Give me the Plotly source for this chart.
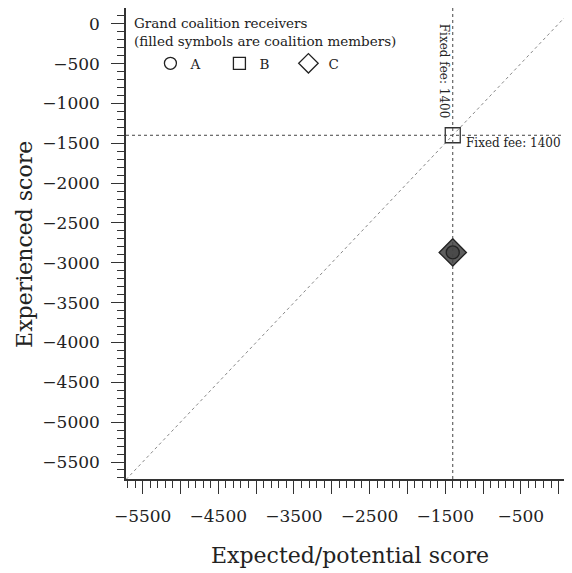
import plotly.graph_objects as go

# data
receivers = ["A", "B", "C"]
expected = [-1400, -1400, -1400]
experienced = [-2870, -1400, -2870]
coalition_member = [True, False, True]
fixed_fee = 1400

y_ticks = list(range(0, -6000, -500))
x_ticks = list(range(-5500, 500, 500))
x_labels = ["−" + str(abs(v)) if (v % 1000) != 0 else "" for v in x_ticks]
y_labels = [("−" + str(abs(v))) if v < 0 else "0" for v in y_ticks]
x_title = "Expected/potential score"
y_title = "Experienced score"

FONT = "DejaVu Serif"
symbols = {"A": "circle", "B": "square", "C": "diamond"}
sizes = {"A": 13, "B": 15, "C": 21}
fills = {"A": "#4a4a4a", "B": "#5a5a5a", "C": "#5e5e5e"}

fig = go.Figure()

xr = [-5720, 150]
yr = [-5713, 197]

# diagonal
fig.add_trace(go.Scatter(x=[-5720, 300], y=[-5720, 300], mode="lines",
                         line=dict(color="#888", width=1, dash="dot"),
                         showlegend=False, hoverinfo="skip"))

for name in ["C", "A", "B"]:
    i = receivers.index(name)
    filled = coalition_member[i]
    fig.add_trace(go.Scatter(
        x=[expected[i]], y=[experienced[i]], mode="markers",
        marker=dict(symbol=symbols[name] + ("" if filled else "-open"),
                    size=sizes[name],
                    color=fills[name] if filled else "#333",
                    line=dict(color="#222", width=1.3)),
        showlegend=False))

# legend entries (open symbols)
for name in receivers:
    fig.add_trace(go.Scatter(
        x=[None], y=[None], mode="markers", name=name,
        marker=dict(symbol=symbols[name] + "-open", size=12 if name != "C" else 15,
                    color="#222", line=dict(width=1.3))))

fig.add_vline(x=-fixed_fee, line=dict(color="#444", width=1, dash="3px,3px"))
fig.add_hline(y=-fixed_fee, line=dict(color="#444", width=1, dash="3px,3px"))

fig.add_annotation(x=-fixed_fee, y=yr[1], xref="x", yref="y", text="Fixed fee: 1400",
                   textangle=90, showarrow=False, xanchor="right", yanchor="top",
                   xshift=1, yshift=-14, font=dict(family=FONT, size=12, color="#222"))
fig.add_annotation(x=-fixed_fee, y=-fixed_fee, xref="x", yref="y", text="Fixed fee: 1400",
                   showarrow=False, xanchor="left", yanchor="middle",
                   xshift=11, yshift=-8, font=dict(family=FONT, size=12, color="#222"))

# legend title
fig.add_annotation(x=0, y=1, xref="paper", yref="paper", xanchor="left", yanchor="top",
                   xshift=6, yshift=-5, align="left", showarrow=False,
                   text="Grand coalition receivers<br>(filled symbols are coalition members)",
                   font=dict(family=FONT, size=13.5, color="#222"))

# axis titles
fig.add_annotation(x=0, y=0.497, xref="paper", yref="paper", xanchor="center", yanchor="middle",
                   xshift=-101, textangle=-90, showarrow=False, text=y_title,
                   font=dict(family=FONT, size=22, color="#222"))
fig.add_annotation(x=0.5045, y=0, xref="paper", yref="paper", xanchor="center", yanchor="middle",
                   yshift=-76, showarrow=False, text=x_title,
                   font=dict(family=FONT, size=22, color="#222"))

axis_common = dict(showgrid=False, zeroline=False, showline=True, linecolor="#333", linewidth=1.5,
                   ticks="outside", ticklen=13, tickwidth=1.3, tickcolor="#333", automargin=False,
                   tickfont=dict(family=FONT, size=17, color="#222"),
                   minor=dict(ticks="outside", ticklen=7, tickwidth=1, tickcolor="#333", dtick=100, tick0=0))

fig.update_layout(
    width=564, height=565,
    margin=dict(l=118, r=2, t=0, b=94),
    plot_bgcolor="white", paper_bgcolor="white",
    font=dict(family=FONT, color="#222"),
    xaxis=dict(range=xr, tickmode="array", tickvals=x_ticks, ticktext=x_labels,
               mirror=True, ticklabelstandoff=8, **axis_common),
    yaxis=dict(range=yr, tickmode="array", tickvals=y_ticks, ticktext=y_labels,
               ticklabelstandoff=8, **axis_common),
    legend=dict(x=0.055, y=0.915, xanchor="left", yanchor="top", orientation="h",
                bgcolor="rgba(0,0,0,0)", tracegroupgap=0,
                font=dict(family=FONT, size=13.5), itemwidth=30, entrywidth=24),
)

fig.write_html("out.html")
